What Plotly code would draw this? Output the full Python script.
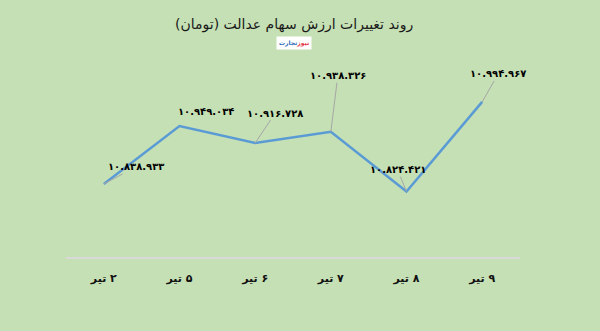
import plotly.graph_objects as go

categories = ["۲ تیر", "۵ تیر", "۶ تیر", "۷ تیر", "۸ تیر", "۹ تیر"]
values = [10838933, 10949034, 10916728, 10938326, 10824421, 10994967]
value_labels = ["۱۰.۸۳۸.۹۳۳", "۱۰.۹۴۹.۰۳۴", "۱۰.۹۱۶.۷۲۸", "۱۰.۹۳۸.۳۲۶", "۱۰.۸۲۴.۴۲۱", "۱۰.۹۹۴.۹۶۷"]
label_offsets = [(32, -17), (26, -15), (20, -30), (7, -56), (-9, -22), (16, -28)]
leader_visible = [True, False, True, True, True, True]
title_text = "روند تغییرات ارزش سهام عدالت (تومان)"

BG = "#C5E0B4"
FONT = "DejaVu Sans"
RLM = "\u200f"

W, H = 600, 331
ML, MR, MT, MB = 66, 80, 73, 74
PW, PH = W - ML - MR, H - MT - MB

fig = go.Figure()
fig.add_trace(go.Scatter(
    x=categories, y=values, mode="lines",
    line=dict(color="#5B9BD5", width=2.5),
    hoverinfo="skip", showlegend=False,
))

for c, v, t, (ax, ay), vis in zip(categories, values, value_labels, label_offsets, leader_visible):
    fig.add_annotation(
        x=c, y=v, xref="x", yref="y", text=f"<b>{t}</b>",
        showarrow=True, ax=ax, ay=ay, arrowhead=0, arrowwidth=1,
        arrowcolor="#A6A6A6" if vis else "rgba(0,0,0,0)",
        font=dict(family=FONT, size=10, color="#000000"),
    )

# title
fig.add_annotation(
    x=(294 - ML) / PW, y=1 + (MT - 25) / PH, xref="paper", yref="paper",
    xanchor="center", yanchor="middle",
    text=RLM + title_text + RLM,
    showarrow=False, font=dict(family=FONT, size=14, color="#1a1a1a"),
)

# small logo badge
fig.add_annotation(
    x=(294 - ML) / PW, y=1 + (MT - 43) / PH, xref="paper", yref="paper",
    xanchor="center", yanchor="middle",
    text="<b><span style='color:#E5323E'>نیوز</span><span style='color:#2E6BB8'>تجارت</span></b>",
    showarrow=False, font=dict(family=FONT, size=6),
    bgcolor="white", borderpad=2,
)

fig.update_layout(
    width=W, height=H,
    margin=dict(l=ML, r=MR, t=MT, b=MB),
    paper_bgcolor=BG, plot_bgcolor=BG,
    font=dict(family=FONT),
    xaxis=dict(
        type="category", range=[-0.5, len(categories) - 0.5],
        tickvals=categories,
        ticktext=[f"<b>{RLM}{c}</b>" for c in categories],
        showline=True, linecolor="#D9D9D9", linewidth=1.5,
        showgrid=False, zeroline=False, ticks="",
        tickfont=dict(family=FONT, size=11, color="#111111"),
        ticklabelstandoff=10, fixedrange=True,
    ),
    yaxis=dict(
        range=[10700000, 11050000], visible=False, fixedrange=True,
    ),
)

fig.write_html("out.html")
